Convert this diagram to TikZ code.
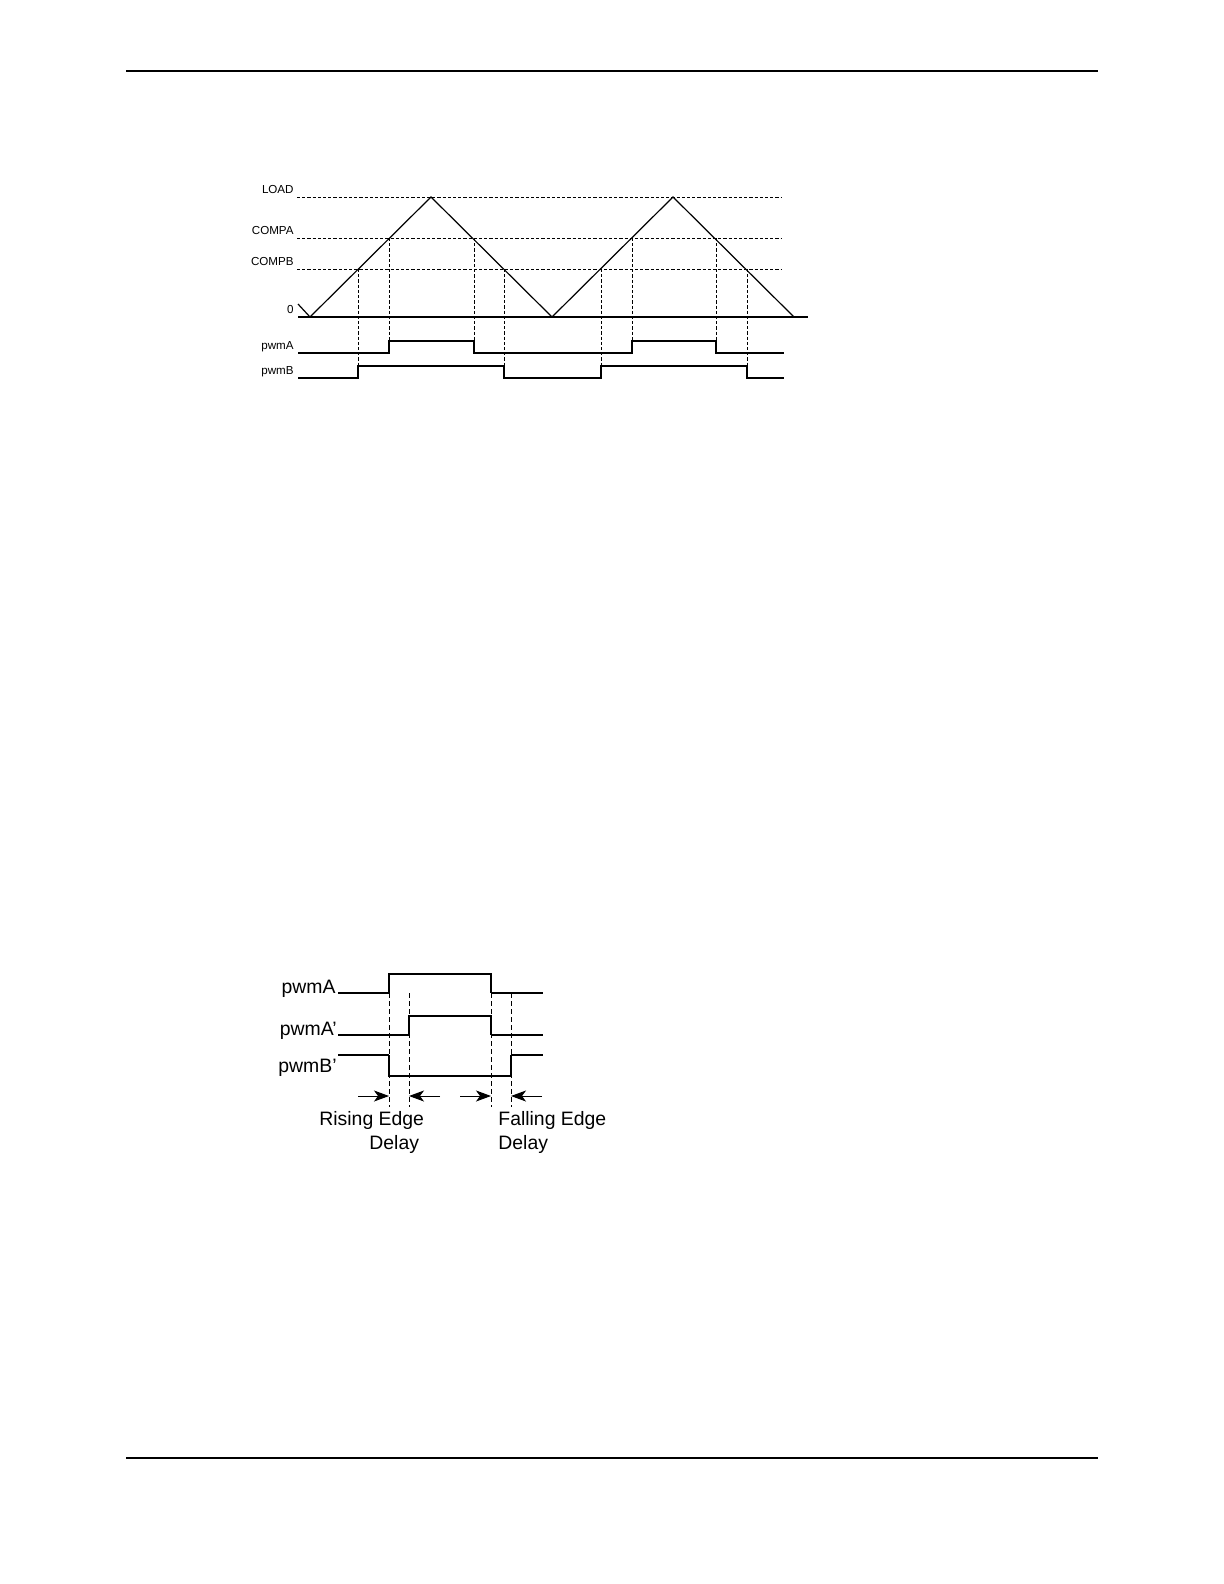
\documentclass[tikz,border=0pt]{standalone}
\usepackage{fontspec}
\setmainfont{Liberation Sans}
\usetikzlibrary{arrows.meta}

\begin{document}
\begin{tikzpicture}[x=0.5pt,y=-0.5pt,
  rule/.style={line width=1pt},
  lvl/.style={line width=0.5pt,dash pattern=on 1.6pt off 1pt},
  vdash/.style={line width=0.5pt,dash pattern=on 1.6pt off 1pt},
  wave/.style={line width=0.6pt},
  pulse/.style={line width=1pt},
  smalllbl/.style={anchor=base east,inner sep=0pt,font=\fontsize{5.8}{7}\selectfont},
  biglbl/.style={anchor=base west,inner sep=0pt,font=\fontsize{9.7}{12}\selectfont},
  dly/.style={line width=0.5pt,dash pattern=on 2.4pt off 1.6pt},
  pt/.style={line width=0.5pt,-{Stealth[length=7.5pt,width=5.5pt,inset=2pt]}}]
\useasboundingbox (0,0) rectangle (1224,1584);

\draw[rule] (126,71) -- (1098,71);
\draw[rule] (126,1458) -- (1098,1458);

\node[smalllbl] (load) at (294,193) {LOAD};
\node[smalllbl] (compa) at (294,234) {COMPA};
\node[smalllbl] (compb) at (294,265) {COMPB};
\node[smalllbl] (zero) at (294,313) {0};
\node[smalllbl] (pwma) at (294,349) {pwmA};
\node[smalllbl] (pwmb) at (294,374) {pwmB};

\draw[lvl] (297,197) -- (782,197);
\draw[lvl] (297,238) -- (782,238);
\draw[lvl] (297,269) -- (782,269);
\draw[line width=1.1pt] (298,317) -- (808,317);
\draw[line width=0.6pt] (298,304) -- (310,317) -- (431,197) -- (552,317) -- (673,197) -- (794,317);

\draw[vdash] (358,269) -- (358,366);
\draw[vdash] (389,238) -- (389,341);
\draw[vdash] (474,238) -- (474,341);
\draw[vdash] (504,269) -- (504,366);
\draw[vdash] (601,269) -- (601,366);
\draw[vdash] (632,238) -- (632,341);
\draw[vdash] (716,238) -- (716,341);
\draw[vdash] (747,269) -- (747,366);

\draw[wave] (298,353) -- (389,353) -- (389,341) -- (474,341) -- (474,353) -- (632,353)
  -- (632,341) -- (716,341) -- (716,353) -- (784,353);
\draw[wave] (298,378) -- (358,378) -- (358,366) -- (504,366) -- (504,378) -- (601,378)
  -- (601,366) -- (747,366) -- (747,378) -- (784,378);

\node[biglbl,anchor=base east] (pa) at (336,993) {pwmA};
\node[biglbl,anchor=base east] (pad) at (337,1035) {pwmA’};
\node[biglbl,anchor=base east] (pbd) at (337,1072) {pwmB’};

\draw[dly] (389,993) -- (389,1107);
\draw[dly] (409,993) -- (409,1107);
\draw[dly] (491,993) -- (491,1107);
\draw[dly] (511,993) -- (511,1107);

\draw[wave] (338,993) -- (389,993);
\draw[pulse] (389,993) -- (389,974) -- (491,974) -- (491,993);
\draw[wave] (491,993) -- (543,993);
\draw[wave] (338,1035) -- (409,1035);
\draw[pulse] (409,1035) -- (409,1016) -- (491,1016) -- (491,1035);
\draw[wave] (491,1035) -- (543,1035);
\draw[wave] (338,1055) -- (389,1055);
\draw[pulse] (389,1055) -- (389,1076) -- (511,1076) -- (511,1055);
\draw[wave] (511,1055) -- (543,1055);

\coordinate (r0) at (358,1096);
\coordinate (r1) at (389,1096);
\coordinate (r2) at (409,1096);
\coordinate (r3) at (440,1096);
\coordinate (f0) at (460,1096);
\coordinate (f1) at (491,1096);
\coordinate (f2) at (511,1096);
\coordinate (f3) at (542,1096);
\draw[pt] (r0) -- (r1);
\draw[pt] (r3) -- (r2);
\draw[pt] (f0) -- (f1);
\draw[pt] (f3) -- (f2);

\node[biglbl] (rise) at (319,1125) {Rising Edge};
\node[biglbl] (risedly) at (369,1149) {Delay};
\node[biglbl] (fall) at (498,1125) {Falling Edge};
\node[biglbl] (falldly) at (498,1149) {Delay};
\end{tikzpicture}
\end{document}
